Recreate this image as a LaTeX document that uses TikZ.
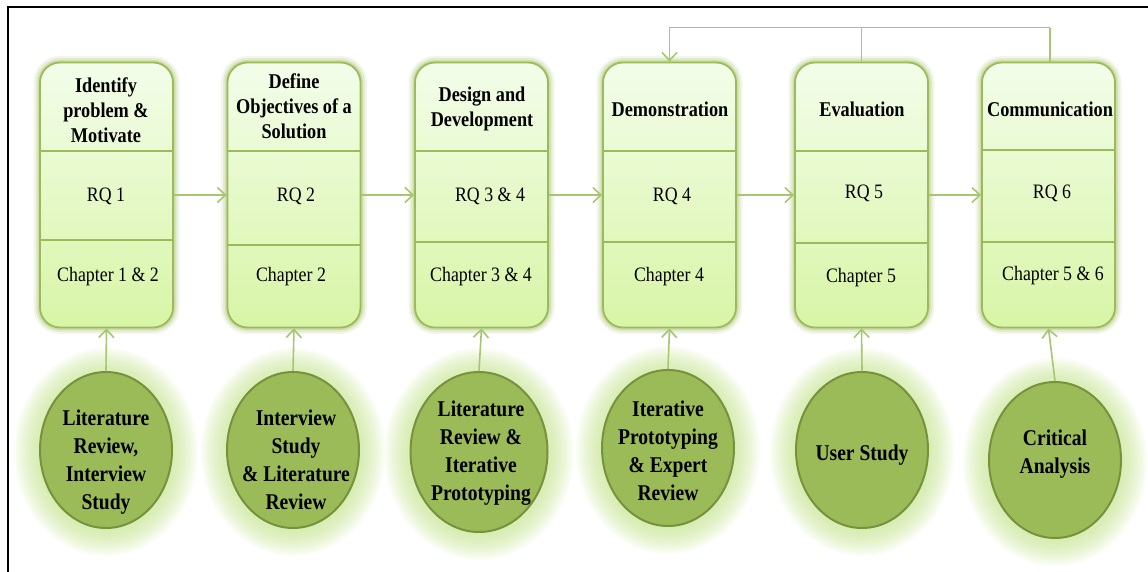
\documentclass[tikz,border=0pt]{standalone}
\usepackage{fontspec}
\setmainfont{Liberation Serif}[FakeStretch=0.87]
\usetikzlibrary{shapes.geometric,arrows.meta,calc,backgrounds}

\definecolor{leaf}{HTML}{9BBB59}
\definecolor{leafdark}{HTML}{76923C}
\definecolor{leafline}{HTML}{A6C672}
\definecolor{glow}{HTML}{C2E288}
\definecolor{paletop}{HTML}{F3FDEA}
\definecolor{palebot}{HTML}{D8F5A6}

\tikzset{
  stagebox/.style={rectangle, rounded corners=20pt, minimum width=133pt,
    minimum height=265pt, inner sep=0pt, draw=leaf, line width=1.8pt,
    top color=paletop, bottom color=palebot,
    preaction={draw=leaf, draw opacity=0.12, line width=13pt},
    preaction={draw=leaf, draw opacity=0.18, line width=9pt},
    preaction={draw=leaf, draw opacity=0.3, line width=5pt}},
  method/.style={ellipse, minimum width=132pt, minimum height=156pt,
    inner sep=0pt, draw=leafdark, line width=2pt, fill=leaf},
  halo/.style={fill=glow, fill opacity=0.075},
  divider/.style={draw=leaf, line width=1.6pt},
  flow/.style={draw=leafline, line width=1.6pt,
    -{Straight Barb[length=8pt,width=15pt]}},
  joinline/.style={draw=leafline, line width=1.6pt},
  title/.style={align=center, inner sep=0pt,
    font=\bfseries\fontsize{21pt}{25pt}\selectfont},
  entry/.style={align=center, inner sep=0pt,
    font=\fontsize{20.5pt}{25pt}\selectfont},
  methodtext/.style={align=center, inner sep=0pt,
    font=\bfseries\fontsize{22.5pt}{28pt}\selectfont},
}

\begin{document}
\begin{tikzpicture}[x=1pt, y=-1pt]
  \useasboundingbox (0,0) rectangle (1148,572);

  % outer frame (top and left edges only)
  \coordinate (frameBL) at (8,572);
  \coordinate (frameTL) at (8,7);
  \coordinate (frameTR) at (1148,7);
  \draw[line width=1.3pt] (frameBL) -- (frameTL) -- (frameTR);

  % stage boxes
  \node[stagebox] (b1) at (106.5,195) {};
  \node[stagebox] (b2) at (294,195) {};
  \node[stagebox] (b3) at (481.5,195) {};
  \node[stagebox] (b4) at (669.5,195) {};
  \node[stagebox] (b5) at (861.5,195) {};
  \node[stagebox] (b6) at (1048.5,195) {};

  % section dividers inside the boxes
  \foreach \b/\ya/\yb in {b1/151/240, b2/151/245, b3/151/242,
                          b4/151/242, b5/151/243, b6/150/242} {
    \draw[divider] (\b.west |- 0,\ya) -- (\b.east |- 0,\ya);
    \draw[divider] (\b.west |- 0,\yb) -- (\b.east |- 0,\yb);
  }

  % stage titles
  \node[title] (t1) at (106,110) {Identify\\problem \&\\Motivate};
  \node[title] (t2) at (294,106) {Define\\Objectives of a\\Solution};
  \node[title] (t3) at (482,109) {Design and\\Development};
  \node[title] (t4) at (670,109) {Demonstration};
  \node[title] (t5) at (862,109) {Evaluation};
  \node[title] (t6) at (1050,109) {Communication};

  % research questions
  \node[entry] (q1) at (106,196) {RQ 1};
  \node[entry] (q2) at (296,196) {RQ 2};
  \node[entry] (q3) at (490,196) {RQ 3 \& 4};
  \node[entry] (q4) at (672,196) {RQ 4};
  \node[entry] (q5) at (864,193) {RQ 5};
  \node[entry] (q6) at (1052,193) {RQ 6};

  % chapters
  \node[entry] (c1) at (108,277) {Chapter 1 \& 2};
  \node[entry] (c2) at (291,277) {Chapter 2};
  \node[entry] (c3) at (481,277) {Chapter 3 \& 4};
  \node[entry] (c4) at (669,277) {Chapter 4};
  \node[entry] (c5) at (861,278) {Chapter 5};
  \node[entry] (c6) at (1053,276) {Chapter 5 \& 6};

  % methods
  \node[method] (e1) at (106,450) {};
  \node[method] (e2) at (293,450) {};
  \node[method, minimum width=137pt, minimum height=160pt] (e3) at (479,452) {};
  \node[method] (e4) at (668,448) {};
  \node[method] (e5) at (862,450) {};
  \node[method] (e6) at (1055,460) {};

  % soft halo behind each method ellipse
  \begin{scope}[on background layer]
    \foreach \e/\rx/\ry in {e1/66/78, e2/66/78, e3/68.5/80,
                            e4/66/78, e5/66/78, e6/66/78} {
      \foreach \k in {2,4,...,26} {
        \fill[halo] ($(\e.center)+(0,2)$) ellipse
          [x radius=\rx+\k, y radius=\ry+\k];
      }
    }
  \end{scope}

  \node[methodtext] (m1) at (106,462) {Literature\\Review,\\Interview\\Study};
  \node[methodtext] (m2) at (296,460) {Interview\\Study\\\& Literature\\Review};
  \node[methodtext] (m3) at (481,453) {Literature\\Review \&\\Iterative\\Prototyping};
  \node[methodtext] (m4) at (668,451) {Iterative\\Prototyping\\\& Expert\\Review};
  \node[methodtext] (m5) at (862,455) {User Study};
  \node[methodtext] (m6) at (1055,454) {Critical\\Analysis};

  % flow between stages
  \draw[flow] (b1.east) -- (b2.west);
  \draw[flow] (b2.east) -- (b3.west);
  \draw[flow] (b3.east) -- (b4.west);
  \draw[flow] (b4.east) -- (b5.west);
  \draw[flow] (b5.east) -- (b6.west);

  % methods feeding the stages
  \foreach \i in {1,...,6} {
    \draw[flow] (e\i.north) -- (b\i.south);
  }

  % iteration loop back to demonstration
  \coordinate (loopR) at ($(b6.north)+(1.5,-34)$);
  \draw[joinline] ($(b6.north)+(1.5,0)$) -- (loopR);
  \draw[flow] (loopR) -| (b4.north);
  \draw[joinline] (b5.north) -- (b5.north |- loopR);
\end{tikzpicture}
\end{document}
